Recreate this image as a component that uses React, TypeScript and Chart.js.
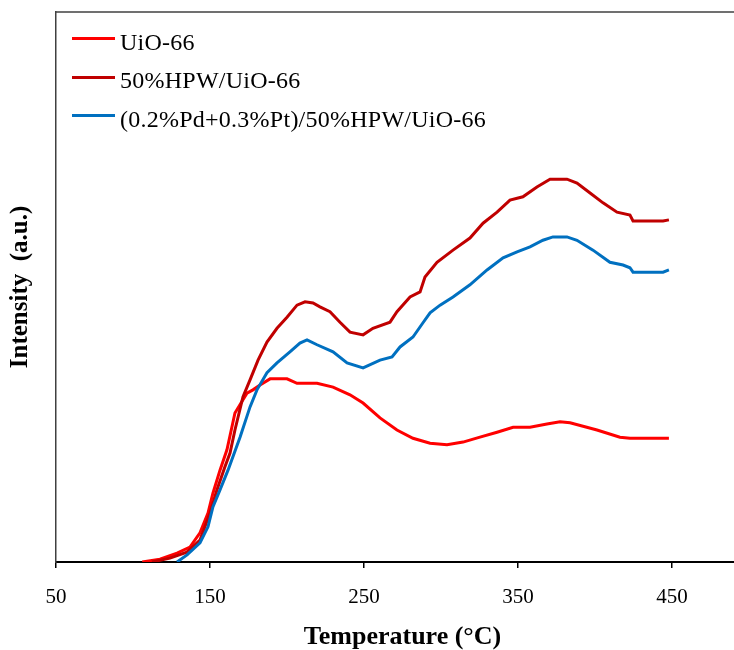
import React, { useEffect, useRef } from "react";
import { Chart, registerables } from "chart.js";

Chart.register(...registerables);

const FONT = '"Liberation Serif", "Times New Roman", serif';

// X axis tick labels (Temperature, °C)
const temperatureTicks = [50, 150, 250, 350, 450];

// UiO-66
const uioTemp = [106, 117.5, 128.6, 137, 143.5, 148.7, 151.9, 156.5, 161, 166.2, 174, 177.9, 182.5, 189, 200, 206.5, 219.5, 229.9, 240.9, 249.4, 260.4, 271.4, 281.8, 292.9, 303.9, 314.3, 325.3, 336.4, 346.8, 357.8, 368.8, 377.3, 383.8, 401.3, 416.2, 422.7, 448];
const uioIntensity = [0, 0.5, 1.6, 2.7, 5.3, 8.9, 12.5, 16.7, 20.4, 27.1, 30.7, 31.3, 32.2, 33.3, 33.3, 32.5, 32.5, 31.8, 30.4, 28.9, 26.2, 24, 22.5, 21.6, 21.3, 21.8, 22.7, 23.6, 24.5, 24.5, 25.1, 25.5, 25.3, 24, 22.7, 22.5, 22.5];

// 50%HPW/UiO-66
const hpwTemp = [112.3, 124, 135, 143.5, 150, 154.5, 159.7, 163, 166.2, 171.4, 176, 181.2, 187, 193.5, 200, 206.5, 211.7, 216.9, 221.4, 227.9, 234.4, 240.9, 249.4, 255.8, 266.9, 271.4, 279.9, 286.4, 289.6, 297.4, 307.8, 318.8, 327.3, 336.4, 344.8, 353.2, 362.3, 370.8, 381.8, 388.3, 396.8, 405.2, 414.3, 422.7, 424.7, 444.2, 448];
const hpwIntensity = [0, 0.7, 1.8, 4, 8.9, 13.1, 17.3, 19.8, 24, 30, 33.1, 36.7, 40, 42.5, 44.5, 46.7, 47.3, 47.1, 46.4, 45.5, 43.6, 41.8, 41.3, 42.5, 43.6, 45.5, 48.2, 49.1, 51.8, 54.5, 56.7, 58.9, 61.6, 63.6, 65.8, 66.4, 68.2, 69.6, 69.6, 68.9, 67.1, 65.3, 63.6, 63.1, 62, 62, 62.2];

// (0.2%Pd+0.3%Pt)/50%HPW/UiO-66
const pdptTemp = [128.6, 135.1, 143.5, 148.7, 151.9, 156.5, 161.7, 169.5, 176, 180.5, 187, 193.5, 201.9, 208.4, 213, 219.5, 229.9, 239, 249.4, 260.4, 268.2, 273.4, 281.8, 288.3, 292.9, 299.4, 307.8, 318.8, 329.9, 340.3, 349.4, 357.8, 366.2, 372.7, 381.8, 388.3, 398.7, 409.7, 418.2, 422.7, 424.7, 444.2, 448];
const pdptIntensity = [0, 1.3, 3.5, 6.4, 10, 13.1, 16.7, 22.7, 28.2, 31.3, 34.4, 36.2, 38.2, 39.8, 40.4, 39.5, 38.2, 36.2, 35.3, 36.7, 37.3, 39.1, 40.9, 43.5, 45.3, 46.7, 48.2, 50.4, 53.1, 55.3, 56.4, 57.3, 58.5, 59.1, 59.1, 58.5, 56.7, 54.5, 54, 53.5, 52.7, 52.7, 53.1];

const seriesNames = ["UiO-66", "50%HPW/UiO-66", "(0.2%Pd+0.3%Pt)/50%HPW/UiO-66"];
const seriesColors = ["#FF0000", "#C00000", "#0070C0"];
const seriesTemps = [uioTemp, hpwTemp, pdptTemp];
const seriesValues = [uioIntensity, hpwIntensity, pdptIntensity];

const topBorder = {
  id: "topBorder",
  afterDraw(chart: any) {
    const { ctx, chartArea } = chart;
    ctx.save();
    ctx.strokeStyle = "#404040";
    ctx.lineWidth = 1.5;
    ctx.beginPath();
    ctx.moveTo(chartArea.left, chartArea.top);
    ctx.lineTo(chart.width, chartArea.top);
    ctx.stroke();
    ctx.restore();
  },
};

export default function App() {
  const ref = useRef<HTMLCanvasElement>(null);

  useEffect(() => {
    const chart = new Chart(ref.current as HTMLCanvasElement, {
      type: "line",
      data: {
        datasets: seriesNames.map((name, i) => ({
          label: name,
          data: seriesTemps[i].map((x, j) => ({ x, y: seriesValues[i][j] })),
          borderColor: seriesColors[i],
          backgroundColor: seriesColors[i],
          borderWidth: 3,
          pointRadius: 0,
          tension: 0,
          order: 3 - i,
        })),
      },
      options: {
        responsive: false,
        animation: false,
        devicePixelRatio: 1,
        layout: { padding: { left: 0, top: 4, right: 19, bottom: 0 } },
        plugins: { legend: { display: false }, tooltip: { enabled: false } },
        scales: {
          x: {
            type: "linear",
            min: 50,
            max: 500,
            afterBuildTicks: (s: any) => {
              s.ticks = temperatureTicks.map((value) => ({ value }));
            },
            afterFit: (s: any) => {
              s.height = 88;
            },
            grid: {
              display: true,
              drawOnChartArea: false,
              drawTicks: true,
              tickLength: 6,
              color: "#000",
              lineWidth: 1.5,
            },
            border: { display: true, color: "#000", width: 2 },
            ticks: {
              font: { family: FONT, size: 21, lineHeight: 1 },
              color: "#000",
              padding: 19,
              maxRotation: 0,
              autoSkip: false,
            },
            title: {
              display: true,
              text: "Temperature (°C)",
              font: { family: FONT, size: 26, weight: "bold", lineHeight: 1 },
              color: "#000",
              padding: 0,
            },
          },
          y: {
            type: "linear",
            min: 0,
            max: 100,
            afterFit: (s: any) => {
              s.width = 48;
            },
            grid: { display: false },
            ticks: { display: false },
            border: { display: true, color: "#404040", width: 1.5 },
            title: {
              display: true,
              text: "Intensity  (a.u.)",
              font: { family: FONT, size: 25, weight: "bold", lineHeight: 1 },
              color: "#000",
              padding: 0,
            },
          },
        },
      },
      plugins: [topBorder],
    } as any);
    return () => chart.destroy();
  }, []);

  const legendLeft = 64;
  const legendLineTop = 30.5;
  const legendSpacing = 38.5;

  return (
    <div style={{ position: "fixed", left: 8, top: 8, width: 760, height: 642, overflow: "hidden" }}>
      <canvas ref={ref} width={760} height={642} style={{ display: "block", width: 760, height: 642 }} />
      {seriesNames.map((name, i) => (
        <React.Fragment key={name}>
          <div
            style={{
              position: "absolute",
              left: legendLeft,
              top: legendLineTop + i * legendSpacing - 1.5,
              width: 43,
              height: 3,
              background: seriesColors[i],
            }}
          />
          <div
            style={{
              position: "absolute",
              left: legendLeft + 48,
              top: legendLineTop + i * legendSpacing - 9,
              fontFamily: FONT,
              fontSize: 24,
              lineHeight: "24px",
              letterSpacing: "0.25px",
              color: "#000",
              whiteSpace: "nowrap",
            }}
          >
            {name}
          </div>
        </React.Fragment>
      ))}
    </div>
  );
}
